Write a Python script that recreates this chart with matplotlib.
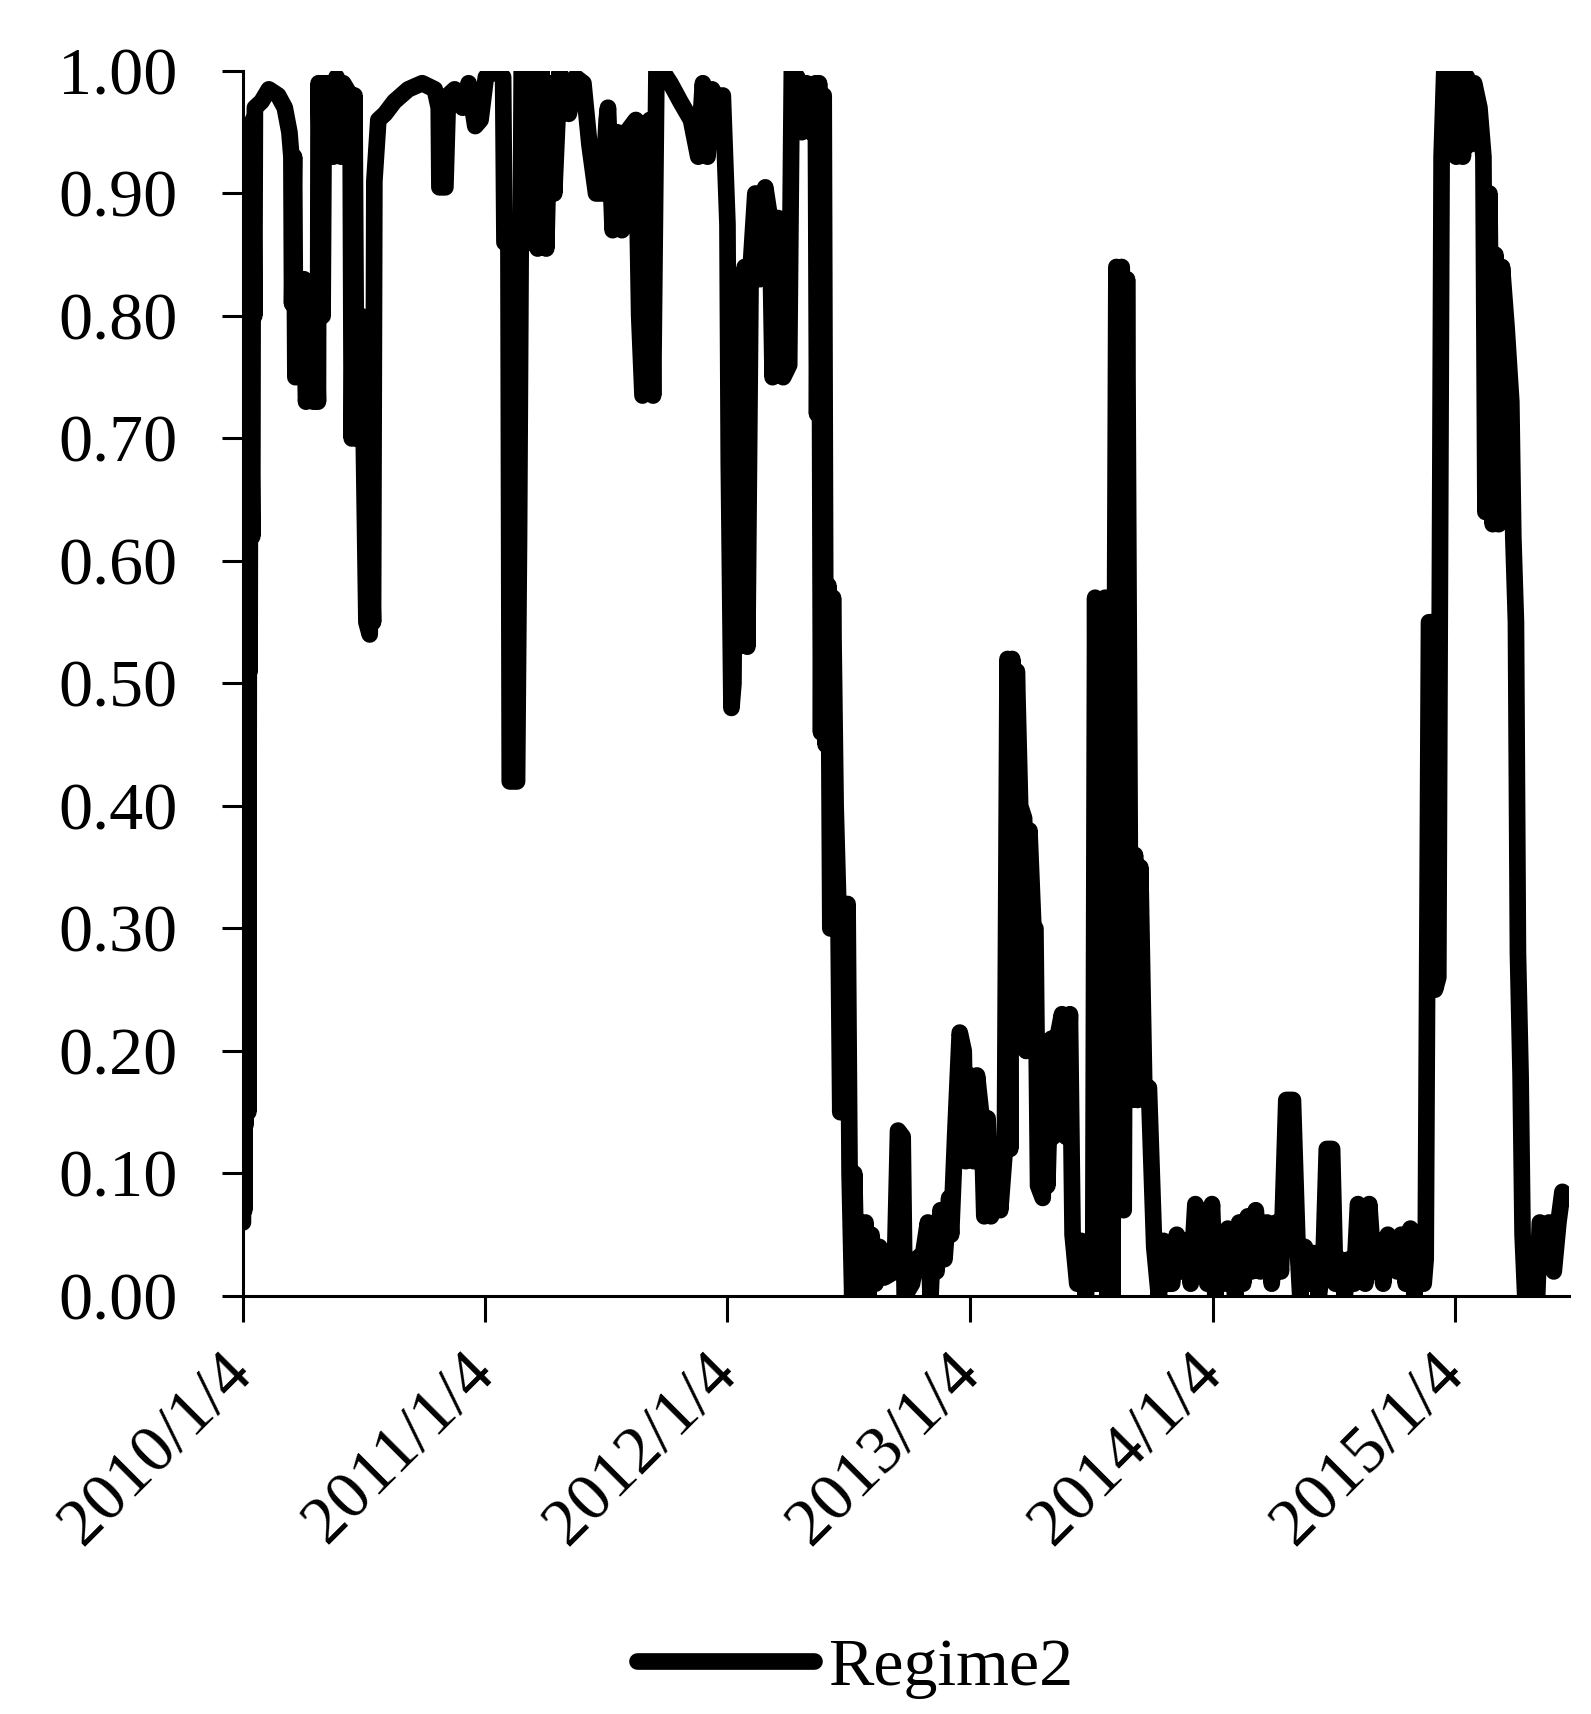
import matplotlib
matplotlib.use('Agg')
import matplotlib.pyplot as plt
import pandas as pd
from matplotlib.ticker import FormatStrFormatter

plt.rcParams['font.family'] = ['Liberation Serif', 'DejaVu Serif']
plt.rcParams['font.size'] = 49

# smoothed probability of regime 2
dates = [
    '2010-01-04', '2010-01-05', '2010-01-06', '2010-01-07', '2010-01-08', '2010-01-11',
    '2010-01-12', '2010-01-13', '2010-01-14', '2010-01-15', '2010-01-18', '2010-01-19',
    '2010-01-21', '2010-01-22', '2010-02-01', '2010-02-12', '2010-02-26', '2010-03-08',
    '2010-03-15', '2010-03-18', '2010-03-19', '2010-03-22', '2010-03-24', '2010-03-29',
    '2010-04-01', '2010-04-06', '2010-04-09', '2010-04-16', '2010-04-20', '2010-04-23',
    '2010-04-27', '2010-04-28', '2010-05-04', '2010-05-06', '2010-05-11', '2010-05-14',
    '2010-05-20', '2010-05-25', '2010-06-01', '2010-06-04', '2010-06-15', '2010-06-17',
    '2010-06-21', '2010-06-24', '2010-07-01', '2010-07-05', '2010-07-09', '2010-07-14',
    '2010-07-16', '2010-07-19', '2010-07-21', '2010-07-27', '2010-08-06', '2010-08-20',
    '2010-09-10', '2010-10-01', '2010-10-20', '2010-10-26', '2010-10-27', '2010-11-05',
    '2010-11-09', '2010-11-19', '2010-12-01', '2010-12-10', '2010-12-20', '2010-12-28',
    # 2011
    '2011-01-05', '2011-01-20', '2011-01-31', '2011-02-02', '2011-02-08', '2011-02-10',
    '2011-02-21', '2011-02-24', '2011-02-28', '2011-03-07', '2011-03-14', '2011-03-18',
    '2011-03-24', '2011-03-30', '2011-04-06', '2011-04-12', '2011-04-18', '2011-04-26',
    '2011-05-10', '2011-05-20', '2011-06-01', '2011-06-10', '2011-06-20', '2011-06-30',
    '2011-07-06', '2011-07-08', '2011-07-15', '2011-07-22', '2011-07-29', '2011-08-05',
    '2011-08-19', '2011-08-24', '2011-08-29', '2011-09-05', '2011-09-09', '2011-09-14',
    '2011-09-19', '2011-09-28', '2011-10-10', '2011-10-25', '2011-11-10', '2011-11-21',
    '2011-11-28', '2011-12-05', '2011-12-12', '2011-12-20', '2011-12-28',
    # 2012
    '2012-01-04', '2012-01-06', '2012-01-10', '2012-01-13', '2012-01-17', '2012-01-20',
    '2012-01-30', '2012-02-03', '2012-02-08', '2012-02-15', '2012-02-22', '2012-03-01',
    '2012-03-08', '2012-03-12', '2012-03-20', '2012-03-28', '2012-04-06', '2012-04-10',
    '2012-04-18', '2012-04-25', '2012-05-02', '2012-05-09', '2012-05-16', '2012-05-18',
    '2012-05-21', '2012-05-24', '2012-05-28', '2012-05-31', '2012-06-04', '2012-06-07',
    '2012-06-11', '2012-06-15', '2012-06-19', '2012-06-22', '2012-06-26', '2012-06-29',
    '2012-07-03', '2012-07-06', '2012-07-10', '2012-07-13', '2012-07-17', '2012-07-20',
    '2012-07-25', '2012-07-30', '2012-08-03', '2012-08-08', '2012-08-14', '2012-08-20',
    '2012-08-27', '2012-09-12', '2012-09-17', '2012-09-24', '2012-09-27', '2012-10-08',
    '2012-10-15', '2012-10-25', '2012-11-01', '2012-11-05', '2012-11-09', '2012-11-14',
    '2012-11-20', '2012-11-26', '2012-12-03', '2012-12-06', '2012-12-12', '2012-12-19',
    '2012-12-25', '2012-12-28',
    # 2013
    '2013-01-04', '2013-01-09', '2013-01-14', '2013-01-21', '2013-01-25', '2013-01-30',
    '2013-02-04', '2013-02-12', '2013-02-18', '2013-02-25', '2013-03-01', '2013-03-05',
    '2013-03-08', '2013-03-12', '2013-03-15', '2013-03-20', '2013-03-26', '2013-03-29',
    '2013-04-03', '2013-04-09', '2013-04-12', '2013-04-16', '2013-04-23', '2013-04-26',
    '2013-04-30', '2013-05-06', '2013-05-09', '2013-05-15', '2013-05-22', '2013-05-28',
    '2013-06-03', '2013-06-07', '2013-06-14', '2013-06-20', '2013-06-27', '2013-07-03',
    '2013-07-08', '2013-07-11', '2013-07-15', '2013-07-19', '2013-07-23', '2013-07-26',
    '2013-07-30', '2013-08-02', '2013-08-06', '2013-08-12', '2013-08-15', '2013-08-20',
    '2013-08-23', '2013-08-28', '2013-09-03', '2013-09-09', '2013-09-13', '2013-09-17',
    '2013-09-23', '2013-09-30', '2013-10-08', '2013-10-15', '2013-10-22', '2013-10-28',
    '2013-11-04', '2013-11-11', '2013-11-18', '2013-11-25', '2013-12-02', '2013-12-09',
    '2013-12-13', '2013-12-20', '2013-12-27',
    # 2014
    '2014-01-03', '2014-01-08', '2014-01-14', '2014-01-21', '2014-01-27', '2014-02-07',
    '2014-02-13', '2014-02-19', '2014-02-26', '2014-03-04', '2014-03-10', '2014-03-17',
    '2014-03-21', '2014-03-27', '2014-04-03', '2014-04-10', '2014-04-17', '2014-04-25',
    '2014-05-05', '2014-05-12', '2014-05-16', '2014-05-23', '2014-05-30', '2014-06-06',
    '2014-06-13', '2014-06-20', '2014-06-25', '2014-07-03', '2014-07-08', '2014-07-15',
    '2014-07-22', '2014-07-29', '2014-08-05', '2014-08-11', '2014-08-18', '2014-08-22',
    '2014-08-28', '2014-09-04', '2014-09-11', '2014-09-18', '2014-09-25', '2014-10-09',
    '2014-10-15', '2014-10-22', '2014-10-29', '2014-11-04', '2014-11-11', '2014-11-18',
    '2014-11-21', '2014-11-26', '2014-12-02', '2014-12-05', '2014-12-10', '2014-12-15',
    '2014-12-19',
    # 2015
    '2015-01-02', '2015-01-06', '2015-01-12', '2015-01-16', '2015-01-22', '2015-01-27',
    '2015-02-02', '2015-02-10', '2015-02-16', '2015-02-19', '2015-02-25', '2015-03-02',
    '2015-03-06', '2015-03-11', '2015-03-16', '2015-03-23', '2015-03-30', '2015-04-02',
    '2015-04-06', '2015-04-09', '2015-04-13', '2015-04-16', '2015-04-20', '2015-05-08',
    '2015-05-12', '2015-05-19', '2015-05-26', '2015-06-02', '2015-06-09', '2015-06-15',
    '2015-06-25',
]

regime2 = [
    0.06, 0.62, 0.07, 0.58, 0.14, 0.81,
    0.15, 0.62, 0.51, 0.80, 0.62, 0.96,
    0.80, 0.97, 0.975, 0.985, 0.98, 0.97,
    0.95, 0.93, 0.81, 0.93, 0.75, 0.80,
    0.75, 0.83, 0.73, 0.76, 0.73, 0.83,
    0.73, 0.99, 0.80, 0.99, 0.93, 0.99,
    0.93, 0.995, 0.93, 0.99, 0.98, 0.70,
    0.98, 0.70, 0.80, 0.70, 0.55, 0.54,
    0.62, 0.55, 0.91, 0.96, 0.965, 0.975,
    0.985, 0.99, 0.985, 0.97, 0.905, 0.905,
    0.98, 0.985, 0.97, 0.99, 0.955, 0.96,
    # 2011
    0.995, 1.0, 0.995, 0.86, 0.86, 0.42,
    0.42, 0.62, 1.0, 1.0, 0.86, 0.99,
    0.855, 1.0, 0.855, 0.99, 0.90, 1.0,
    0.965, 0.995, 0.99, 0.94, 0.90, 0.90,
    0.96, 0.97, 0.87, 0.95, 0.87, 0.95,
    0.96, 0.80, 0.735, 0.74, 0.96, 0.735,
    1.0, 1.0, 0.99, 0.975, 0.96, 0.93,
    0.99, 0.93, 0.985, 0.975, 0.98,
    # 2012
    0.875, 0.68, 0.48, 0.50, 0.79, 0.53,
    0.84, 0.53, 0.84, 0.90, 0.83, 0.905,
    0.88, 0.75, 0.88, 0.75, 0.76, 1.0,
    0.995, 0.95, 0.99, 0.95, 0.99, 0.72,
    0.99, 0.46, 0.98, 0.45, 0.58, 0.30,
    0.57, 0.40, 0.32, 0.15, 0.32, 0.20,
    0.32, 0.10, 0.0, 0.10, 0.0, 0.06,
    0.01, 0.06, 0.0, 0.05, 0.01, 0.04,
    0.015, 0.02, 0.135, 0.13, 0.0, 0.01,
    0.03, 0.035, 0.06, 0.0, 0.05, 0.02,
    0.07, 0.03, 0.08, 0.05, 0.13, 0.215,
    0.20, 0.11,
    # 2013
    0.18, 0.11, 0.18, 0.145, 0.065, 0.145,
    0.065, 0.12, 0.07, 0.12, 0.52, 0.12,
    0.52, 0.30, 0.51, 0.40, 0.39, 0.20,
    0.38, 0.30, 0.30, 0.09, 0.08, 0.18,
    0.09, 0.21, 0.13, 0.21, 0.23, 0.13,
    0.23, 0.05, 0.01, 0.045, 0.0, 0.045,
    0.01, 0.57, 0.01, 0.56, 0.02, 0.57,
    0.0, 0.55, 0.0, 0.84, 0.07, 0.84,
    0.07, 0.83, 0.16, 0.36, 0.16, 0.35,
    0.17, 0.17, 0.04, 0.0, 0.045, 0.01,
    0.01, 0.05, 0.02, 0.045, 0.01, 0.075,
    0.02, 0.07, 0.01,
    # 2014
    0.075, 0.0, 0.05, 0.01, 0.055, 0.0,
    0.06, 0.01, 0.065, 0.02, 0.07, 0.02,
    0.03, 0.06, 0.01, 0.06, 0.02, 0.16,
    0.16, 0.04, 0.0, 0.04, 0.01, 0.035,
    0.0, 0.03, 0.12, 0.12, 0.01, 0.03,
    0.0, 0.03, 0.01, 0.075, 0.06, 0.01,
    0.075, 0.02, 0.045, 0.01, 0.05, 0.02,
    0.05, 0.01, 0.055, 0.0, 0.045, 0.01,
    0.03, 0.55, 0.55, 0.25, 0.26, 0.93,
    1.0,
    # 2015
    0.995, 0.93, 0.995, 0.93, 0.995, 0.94,
    0.99, 0.97, 0.93, 0.64, 0.90, 0.63,
    0.85, 0.63, 0.84, 0.79, 0.73, 0.62,
    0.55, 0.28, 0.18, 0.05, 0.0, 0.0,
    0.06, 0.05, 0.06, 0.02, 0.06, 0.085,
    0.08,
]

tick_dates = ['2010-01-04', '2011-01-04', '2012-01-04',
              '2013-01-04', '2014-01-04', '2015-01-04']
tick_labels = ['2010/1/4', '2011/1/4', '2012/1/4',
               '2013/1/4', '2014/1/4', '2015/1/4']
y_ticks = [0.0, 0.1, 0.2, 0.3, 0.4, 0.5, 0.6, 0.7, 0.8, 0.9, 1.0]
series_name = 'Regime2'

fig = plt.figure(figsize=(15.91, 17.14), dpi=100)
ax = fig.add_axes([0.1527, 0.2439, 0.8335, 0.7147])

ax.plot(pd.to_datetime(dates), regime2, color='black', lw=12,
        solid_joinstyle='round', solid_capstyle='round', label=series_name)

ax.set_xlim(pd.Timestamp(dates[0]), pd.Timestamp(dates[-1]))
ax.set_ylim(0, 1)
ax.set_yticks(y_ticks)
ax.yaxis.set_major_formatter(FormatStrFormatter('%.2f'))
ax.set_xticks(pd.to_datetime(tick_dates))
ax.set_xticklabels(tick_labels, rotation=45, ha='right', va='center',
                   rotation_mode='anchor')

for side in ('top', 'right'):
    ax.spines[side].set_visible(False)
for side in ('left', 'bottom'):
    ax.spines[side].set_linewidth(2.2)

ax.tick_params(axis='y', direction='out', length=15, width=2.2, pad=32)
ax.tick_params(axis='x', direction='out', length=19, width=2.2, pad=30)

fig.legend(loc='center', bbox_to_anchor=(0.5375, 0.027), frameon=False,
           handlelength=2.6, handletextpad=0.2, fontsize=49)

fig.savefig('out.png', dpi=100)
